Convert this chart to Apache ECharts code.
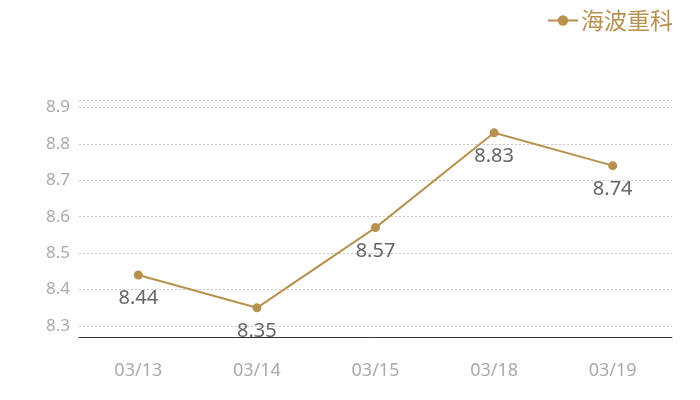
<!DOCTYPE html>
<html><head><meta charset="utf-8">
<script src="https://cdn.jsdelivr.net/npm/echarts@6/dist/echarts.min.js"></script>
<style>html,body{margin:0;padding:0;background:#fff}#c{width:700px;height:400px}</style>
</head><body><div id="c"></div>
<script>
const categories = ['03/13', '03/14', '03/15', '03/18', '03/19'];
const seriesName = '海波重科';
const values = [8.44, 8.35, 8.57, 8.83, 8.74];
const yMin = 8.27, yMax = 8.92;

const chart = echarts.init(document.getElementById('c'));
const gold = '#b8914f';
const font = '"Noto Sans", "Noto Sans CJK SC", sans-serif';
chart.setOption({
  animation: false,
  legend: {
    right: 22, top: 4,
    itemWidth: 30, itemHeight: 13,
    itemGap: 6,
    textStyle: { color: gold, fontSize: 23, fontFamily: '"Noto Sans CJK SC", sans-serif', padding: [0, 0, 0, -2] },
    data: [seriesName]
  },
  grid: { left: 79, right: 28, top: 100, bottom: 63 },
  xAxis: {
    type: 'category',
    data: categories,
    boundaryGap: true,
    axisLine: { lineStyle: { color: '#333', width: 1 } },
    axisTick: { show: false },
    axisLabel: { color: '#aaa', fontSize: 18, margin: 25, fontFamily: font }
  },
  yAxis: {
    type: 'value',
    min: yMin, max: yMax,
    splitNumber: 6,
    axisLine: { show: false },
    axisTick: { show: false },
    axisLabel: { color: '#aaa', fontSize: 17, margin: 9, showMinLabel: false, showMaxLabel: false, fontFamily: font,
      formatter: v => (Math.abs(v * 10 - Math.round(v * 10)) < 1e-6 ? v.toFixed(1) : '') },
    splitLine: { lineStyle: { color: '#c8c8c8', type: [2, 2] } }
  },
  series: [{
    name: seriesName,
    type: 'line',
    data: values,
    symbol: 'circle',
    symbolSize: 9,
    itemStyle: { color: gold },
    lineStyle: { color: gold, width: 2 },
    label: { show: true, position: 'bottom', distance: 9, color: '#666', fontSize: 20, fontFamily: font }
  }]
});
</script></body></html>
